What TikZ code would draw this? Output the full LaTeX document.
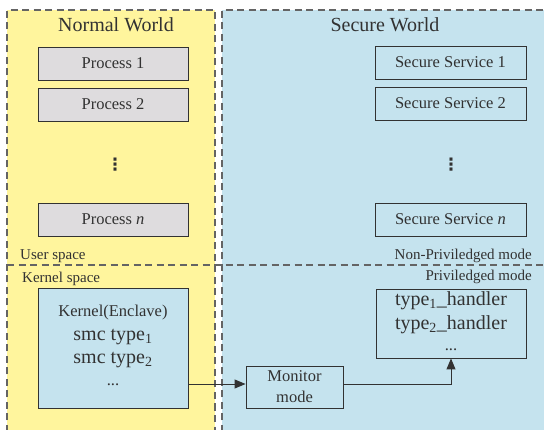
\documentclass[tikz,border=0pt]{standalone}
\usepackage{fontspec}
\setmainfont{Liberation Serif}
\newfontfamily\symfont{DejaVu Sans}
\usetikzlibrary{arrows.meta}
\definecolor{nwyellow}{RGB}{255,245,157}
\definecolor{swblue}{RGB}{197,227,238}
\definecolor{procgray}{RGB}{222,220,222}
\definecolor{dashgray}{RGB}{100,100,100}
\definecolor{inkc}{RGB}{50,50,50}
\tikzset{
  region/.style={draw=dashgray, line width=1.3pt, dash pattern=on 7pt off 4.5pt},
  procbox/.style={draw=inkc, line width=0.9pt, fill=procgray, minimum width=150pt, minimum height=33pt, inner sep=0pt, font=\fontsize{16.5}{18}\selectfont, text=inkc},
  svcbox/.style={draw=inkc, line width=0.9pt, fill=swblue, minimum width=151pt, minimum height=33pt, inner sep=0pt, font=\fontsize{16.5}{18}\selectfont, text=inkc},
  bigbox/.style={draw=inkc, line width=0.9pt, fill=swblue, inner sep=0pt},
  title/.style={font=\fontsize{20}{22}\selectfont, text=inkc, inner sep=0pt},
  lbl/.style={font=\fontsize{15}{17}\selectfont, text=inkc, inner sep=0pt},
  midtxt/.style={font=\fontsize{16.5}{18}\selectfont, text=inkc, inner sep=0pt},
  bigtxt/.style={font=\fontsize{20}{22}\selectfont, text=inkc, inner sep=0pt},
  conn/.style={draw=inkc, line width=0.9pt, -{Triangle[length=11pt,width=9pt]}},
  vdotsty/.style={font=\symfont\bfseries\fontsize{17}{20}\selectfont, text=inkc, inner sep=0pt}
}
\begin{document}
\begin{tikzpicture}[x=1pt,y=-1pt]
\useasboundingbox (0,0) rectangle (544,430);
% regions
\fill[nwyellow] (7,10) rectangle (215,432);
\fill[swblue] (222,10) rectangle (546,432);
\draw[region] (7,432) -- (7,10) -- (215,10) -- (215,432);
\draw[region] (222,432) -- (222,10) -- (546,10);
\draw[region] (7,265) -- (546,265);
% titles
\node[title] (nwt) at (116,25) {Normal World};
\node[title] (swt) at (385,25) {Secure World};
% processes
\node[procbox] (p1) at (113,63.5) {Process 1};
\node[procbox] (p2) at (113,104.5) {Process 2};
\node[procbox] (pn) at (113,219.5) {Process \textit{n}};
\node[vdotsty] (d1) at (115,165) {⋮};
% services
\node[svcbox] (s1) at (450.5,62.5) {Secure Service 1};
\node[svcbox] (s2) at (450.5,103.5) {Secure Service 2};
\node[svcbox] (sn) at (450.5,219.5) {Secure Service \textit{n}};
\node[vdotsty] (d2) at (451,165) {⋮};
% labels
\node[lbl, anchor=west] (us) at (20,256) {User space};
\node[lbl, anchor=west] (ks) at (22,279) {Kernel space};
\node[lbl, anchor=east] (np) at (532,256) {Non-Priviledged mode};
\node[lbl, anchor=east] (pm) at (532,277) {Priviledged mode};
% kernel
\node[bigbox, minimum width=150pt, minimum height=120pt] (kernel) at (113,348) {};
\node[midtxt] (k1) at (113,313) {Kernel(Enclave)};
\node[bigtxt] (k2) at (113,337) {smc type\textsubscript{1}};
\node[bigtxt] (k3) at (113,360) {smc type\textsubscript{2}};
\node[midtxt] (k4) at (113,385) {...};
% handler
\node[bigbox, minimum width=150pt, minimum height=69pt] (handler) at (451,323.5) {};
\node[bigtxt] (h1) at (451,301) {type\textsubscript{1}\_handler};
\node[bigtxt] (h2) at (451,325) {type\textsubscript{2}\_handler};
\node[midtxt] (h3) at (451,350) {...};
% monitor
\node[bigbox, minimum width=97pt, minimum height=42pt, align=center, font=\fontsize{16.5}{21}\selectfont, text=inkc] (monitor) at (294.5,387) {Monitor\\mode};
% connectors
\draw[conn] (kernel.east |- 0,384) -- (monitor.west |- 0,384);
\draw[conn] (monitor.east |- 0,384) -| (handler.south);
\end{tikzpicture}
\end{document}
